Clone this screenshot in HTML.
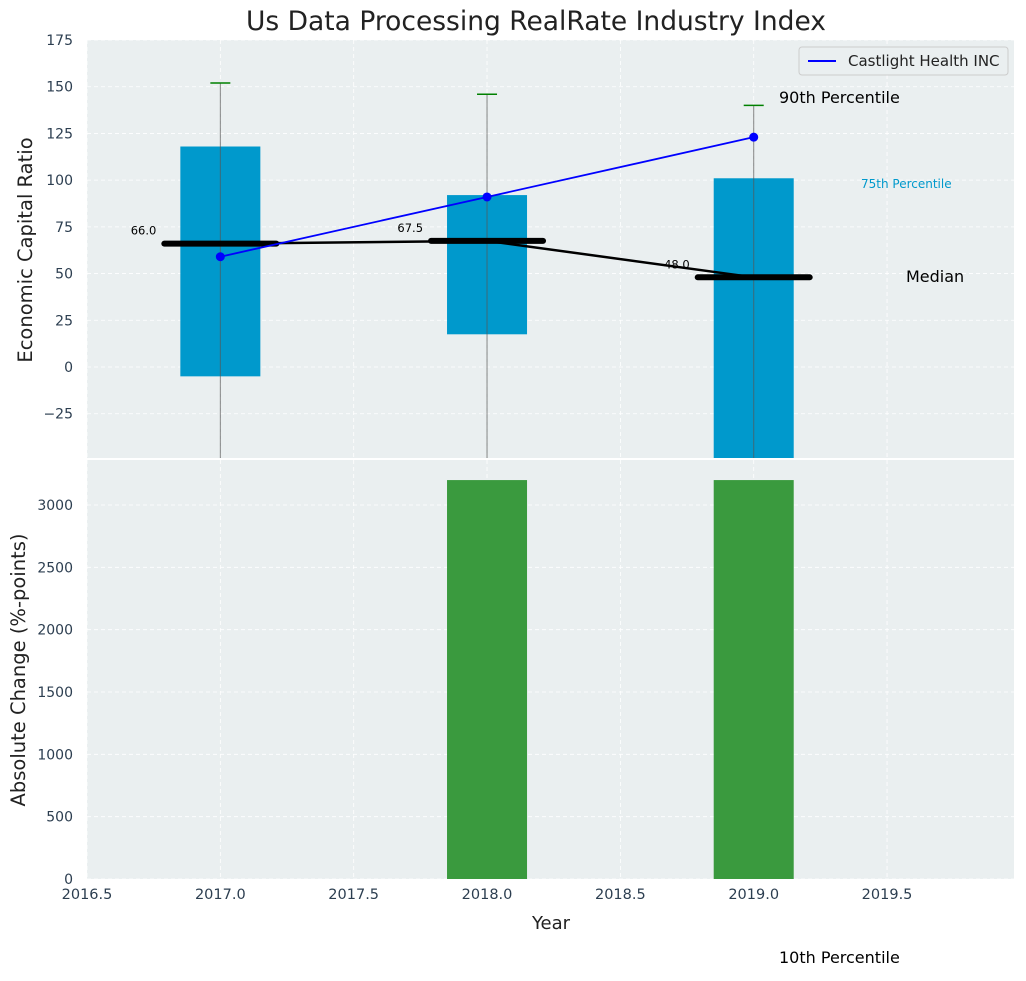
<!DOCTYPE html>
<html><head><meta charset="utf-8"><style>
body{margin:0;background:#fff;}
svg{font-family:"DejaVu Sans","Liberation Sans",sans-serif;}
</style></head><body>
<svg id="chart" width="1026" height="976" xmlns="http://www.w3.org/2000/svg">
<g id="g"></g>
</svg>
<script>
const years=[2017,2018,2019];
const q75=[118,92,101];
const q25=[-5,17.5,-60];
const p90=[152,146,140];
const p10=[-60,-60,-60];
const medians=[66,67.5,48];
const company=[59,91,123];
const changes=[0,3200,3200];
const topTicks=[-25,0,25,50,75,100,125,150,175];
const botTicks=[0,500,1000,1500,2000,2500,3000];
const xTicks=[2016.5,2017,2017.5,2018,2018.5,2019,2019.5];

const NS="http://www.w3.org/2000/svg";
const g=document.getElementById('g');
function el(t,a,txt){const e=document.createElementNS(NS,t);for(const k in a)e.setAttribute(k,a[k]);if(txt!==undefined)e.textContent=txt;g.appendChild(e);return e;}
const L=87,R=1014,T1=40,B1=458,T2=460,B2=879;
const x=v=>L+(v-2016.5)/(2019.976-2016.5)*(R-L);
const y1=v=>T1+(175-v)/(175+48.7)*(B1-T1);
const y2=v=>B2-v/3361*(B2-T2);

let e;
e=el('rect',{x:L,y:T1,width:R-L,height:B1-T1,fill:'#eaeff0'});

e=el('rect',{x:L,y:T2,width:R-L,height:B2-T2,fill:'#eaeff0'});

const cp=el('clipPath',{id:'c1'});const cr=document.createElementNS(NS,'rect');cr.setAttribute('x',L);cr.setAttribute('y',T1);cr.setAttribute('width',R-L);cr.setAttribute('height',B1-T1);cp.appendChild(cr);

xTicks.forEach(t=>{
 e=el('line',{x1:x(t),x2:x(t),y1:T1,y2:B1,stroke:'#fff','stroke-dasharray':'4,3','stroke-width':0.8});
 
 e=el('line',{x1:x(t),x2:x(t),y1:T2,y2:B2,stroke:'#fff','stroke-dasharray':'4,3','stroke-width':0.8});
 
 e=el('text',{x:x(t),y:B2+20,'text-anchor':'middle','font-size':14.5,fill:'#2c3e50'},t.toFixed(1));
 
});
topTicks.forEach(t=>{
 e=el('line',{x1:L,x2:R,y1:y1(t),y2:y1(t),stroke:'#fff','stroke-dasharray':'4,3','stroke-width':0.8});
 
 e=el('text',{x:L-14,y:y1(t)+5,'text-anchor':'end','font-size':14,fill:'#2c3e50'},t<0?'\u2212'+(-t):t);
 
});
botTicks.forEach(t=>{
 e=el('line',{x1:L,x2:R,y1:y2(t),y2:y2(t),stroke:'#fff','stroke-dasharray':'4,3','stroke-width':0.8});
 
 e=el('text',{x:L-14,y:y2(t)+5,'text-anchor':'end','font-size':14,fill:'#2c3e50'},t);
 
});
const topG=el('g',{'clip-path':'url(#c1)'});
function tel(t,a,txt){const n=document.createElementNS(NS,t);for(const k in a)n.setAttribute(k,a[k]);if(txt!==undefined)n.textContent=txt;topG.appendChild(n);return n;}
years.forEach((yr,i)=>{
 e=tel('rect',{x:x(yr-0.15),y:y1(q75[i]),width:x(yr+0.15)-x(yr-0.15),height:y1(q25[i])-y1(q75[i]),fill:'#0099cc'});
 
 e=tel('line',{x1:x(yr),x2:x(yr),y1:y1(p90[i]),y2:y1(p10[i]),stroke:'#555','stroke-opacity':0.7,'stroke-width':1});
 
 e=tel('line',{x1:x(yr)-10,x2:x(yr)+10,y1:y1(p90[i]),y2:y1(p90[i]),stroke:'green','stroke-width':1.5});
 
});
let pts=years.map((yr,i)=>x(yr)+','+y1(medians[i])).join(' ');
e=tel('polyline',{points:pts,fill:'none',stroke:'#000','stroke-width':2.5});

years.forEach((yr,i)=>{
 e=tel('line',{x1:x(yr-0.21),x2:x(yr+0.21),y1:y1(medians[i]),y2:y1(medians[i]),stroke:'#000','stroke-width':6,'stroke-linecap':'round'});
 
 e=tel('text',{x:x(yr-0.24),y:y1(medians[i])-9,'text-anchor':'end','font-size':11.5,fill:'#000'},medians[i].toFixed(1));
 
});
pts=years.map((yr,i)=>x(yr)+','+y1(company[i])).join(' ');
e=tel('polyline',{points:pts,fill:'none',stroke:'#0000ff','stroke-width':1.8});

years.forEach((yr,i)=>{
 e=tel('circle',{cx:x(yr),cy:y1(company[i]),r:4.5,fill:'#0000ff'});
 
});
years.forEach((yr,i)=>{
 if(!changes[i])return;
 e=el('rect',{x:x(yr-0.15),y:y2(changes[i]),width:x(yr+0.15)-x(yr-0.15),height:y2(0)-y2(changes[i]),fill:'#3a9a3e'});
 
});
e=el('line',{x1:L,x2:R,y1:459,y2:459,stroke:'#fff','stroke-width':2});

e=el('text',{x:536,y:30,'text-anchor':'middle','font-size':26.5,fill:'#222'},'Us Data Processing RealRate Industry Index');

e=el('text',{x:32,y:250,'text-anchor':'middle','font-size':19.5,fill:'#222',transform:'rotate(-90 32 250)'},'Economic Capital Ratio');

e=el('text',{x:25,y:670,'text-anchor':'middle','font-size':19.5,fill:'#222',transform:'rotate(-90 25 670)'},'Absolute Change (%-points)');

e=el('text',{x:551,y:929,'text-anchor':'middle','font-size':18,fill:'#222'},'Year');

e=el('text',{x:779,y:103,'font-size':16,fill:'#000'},'90th Percentile');

e=el('text',{x:861,y:188,'font-size':12,fill:'#0099cc'},'75th Percentile');

e=el('text',{x:906,y:282,'font-size':16,fill:'#000'},'Median');

e=el('text',{x:779,y:963,'font-size':16,fill:'#000'},'10th Percentile');

e=el('rect',{x:799,y:47,width:209,height:28,fill:'#eaeff0',stroke:'#ccc',rx:3});

e=el('line',{x1:808,x2:836,y1:61,y2:61,stroke:'#0000ff','stroke-width':2});

e=el('text',{x:848,y:66,'font-size':15,fill:'#222'},'Castlight Health INC');

</script>
</body></html>
